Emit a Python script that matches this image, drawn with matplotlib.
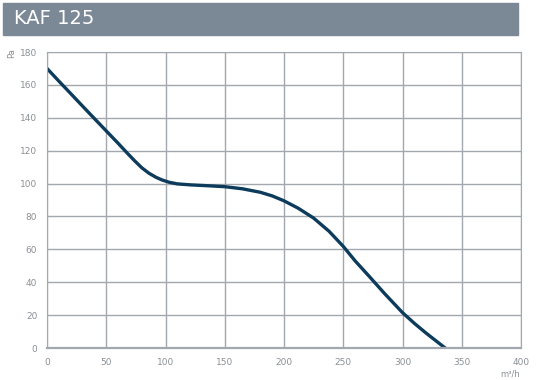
import matplotlib.pyplot as plt
from matplotlib.patches import Rectangle

# fan curve
flow = [0, 10, 22, 35, 50, 60, 68, 74, 80, 86, 92, 97, 103, 110, 121, 135, 150, 165,
        180, 190, 200, 212, 225, 238, 250, 260, 272, 285, 300, 310, 320, 328, 336]
pressure = [170, 162.3, 153.2, 143.3, 132, 124.5, 118.3, 113.8, 109.6, 106.3, 103.8,
            102.2, 100.8, 99.8, 99.2, 98.7, 98.1, 96.8, 94.7, 92.5, 89.5, 85, 79, 71,
            61.8, 53, 43.5, 33, 21.5, 15, 9, 4.5, 0]

x_ticks = [0, 50, 100, 150, 200, 250, 300, 350, 400]
y_ticks = [0, 20, 40, 60, 80, 100, 120, 140, 160, 180]

title = "KAF 125"
grid_col = "#a3a8ae"
text_col = "#8a9096"

fig = plt.figure(figsize=(5.4, 3.8), dpi=100)

# grey title bar
fig.patches.append(Rectangle((3 / 540, 1 - 35 / 380), 515 / 540, 32 / 380,
                             transform=fig.transFigure, color="#7b8997", zorder=0))
fig.text(14 / 540, 1 - 19 / 380, title, color="white", fontsize=14,
         va="center", ha="left")

ax = fig.add_axes([47 / 540, 1 - 348 / 380, 474 / 540, 296 / 380])
ax.plot(flow, pressure, color="#0c3b5b", linewidth=2.4, solid_joinstyle="round")

ax.set_xlim(0, 400)
ax.set_ylim(0, 180)
ax.set_xticks(x_ticks)
ax.set_yticks(y_ticks)
ax.grid(True, color=grid_col, linewidth=1)
ax.set_axisbelow(True)
for s in ax.spines.values():
    s.set_color(grid_col)
ax.spines["bottom"].set_linewidth(1.6)
ax.tick_params(length=0, colors=text_col, labelsize=6.5, pad=7)

fig.text(12 / 540, 1 - 53 / 380, "Pa", rotation=90, color=text_col,
         fontsize=6, ha="center", va="center")
fig.text(510 / 540, 1 - 374 / 380, "m³/h", color=text_col,
         fontsize=6, ha="center", va="center")

fig.savefig("out.png", dpi=100)
